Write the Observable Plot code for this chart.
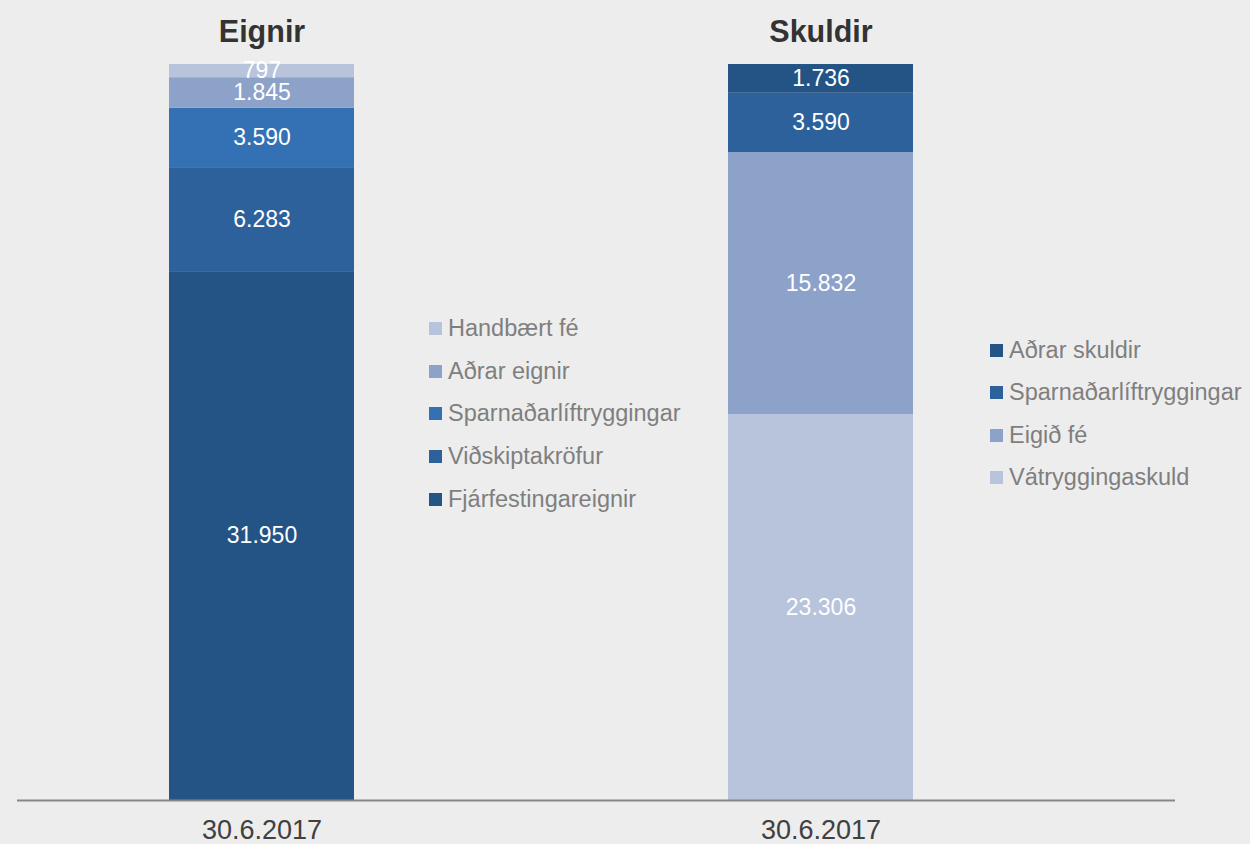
<!DOCTYPE html>
<html>
<head>
<meta charset="utf-8">
<script src="https://cdn.jsdelivr.net/npm/d3@7"></script>
<script src="https://cdn.jsdelivr.net/npm/@observablehq/plot@0.6"></script>
<style>
  html, body { margin: 0; padding: 0; background: #EDEDED; }
  #wrap { position: relative; width: 1250px; height: 844px; font-family: Arial, "Liberation Sans", sans-serif; }
  .legend { position: absolute; }
  .legend .item { display: flex; align-items: center; font-size: 23.5px; color: #7F7F7F; white-space: nowrap; }
  .legend .sw { width: 13px; height: 13px; margin-right: 6px; flex: none; }
</style>
</head>
<body>
<div id="wrap"></div>
<script>
// Data (bottom to top in each bar)
const sides = ["Eignir", "Skuldir"];
const dateLabel = "30.6.2017";
const assetCats = ["Fjárfestingareignir", "Viðskiptakröfur", "Sparnaðarlíftryggingar", "Aðrar eignir", "Handbært fé"];
const assetVals = [31950, 6283, 3590, 1845, 797];
const liabCats = ["Vátryggingaskuld", "Eigið fé", "Sparnaðarlíftryggingar", "Aðrar skuldir"];
const liabVals = [23306, 15832, 3590, 1736];

// Styles
const assetColors = ["#245386", "#2D619C", "#3470B4", "#8CA2C9", "#B7C4DC"];
const liabColors = ["#B7C4DC", "#8CA2C9", "#2D619C", "#245386"];

const rows = [
  ...assetCats.map((c, i) => ({side: sides[0], cat: c, key: sides[0] + ":" + c, value: assetVals[i]})),
  ...liabCats.map((c, i) => ({side: sides[1], cat: c, key: sides[1] + ":" + c, value: liabVals[i]}))
];
const colorDomain = rows.map(d => d.key);
const colorRange = [...assetColors, ...liabColors];

const isl = d3.formatLocale({decimal: ",", thousands: ".", grouping: [3], currency: ["", ""]});
const fmt = isl.format(",");

const font = "Arial, 'Liberation Sans', sans-serif";

const chart = Plot.plot({
  width: 1250,
  height: 844,
  marginTop: 64,
  marginBottom: 44,
  marginLeft: 17,
  marginRight: 75,
  style: {background: "#EDEDED", fontFamily: font},
  x: {domain: sides, paddingInner: 0.6696, paddingOuter: 0.3688, align: 0.366, label: null},
  y: {domain: [0, d3.sum(assetVals)], axis: null},
  color: {domain: colorDomain, range: colorRange},
  marks: [
    Plot.barY(rows, Plot.stackY({x: "side", y: "value", fill: "key", order: null})),
    Plot.text(rows, Plot.stackY({x: "side", y: "value", z: "key", order: null, text: d => fmt(d.value), fill: "white", fontSize: 23})),
    Plot.ruleY([0], {stroke: "#878787", strokeWidth: 2}),
    Plot.text(sides, {x: d => d, text: d => d, frameAnchor: "top", dy: -44, fontSize: 30.5, fontWeight: "bold", fill: "#333333"}),
    Plot.axisX({tickSize: 0, tickPadding: 19, tickFormat: () => dateLabel, fontSize: 27, color: "#404040", label: null})
  ]
});

const wrap = document.getElementById("wrap");
wrap.appendChild(chart);

function legend(cats, colors, left, top, gap) {
  const div = document.createElement("div");
  div.className = "legend";
  div.style.left = left + "px";
  div.style.top = top + "px";
  // legend listed top to bottom (reverse of stack order)
  cats.map((c, i) => [c, colors[i]]).reverse().forEach(([c, col]) => {
    const it = document.createElement("div");
    it.className = "item";
    it.style.height = gap + "px";
    const sw = document.createElement("span");
    sw.className = "sw";
    sw.style.background = col;
    const tx = document.createElement("span");
    tx.textContent = c;
    it.appendChild(sw);
    it.appendChild(tx);
    div.appendChild(it);
  });
  wrap.appendChild(div);
}
legend(assetCats, assetColors, 429, 307, 42.8);
legend(liabCats, liabColors, 990, 329, 42.5);
</script>
</body>
</html>
